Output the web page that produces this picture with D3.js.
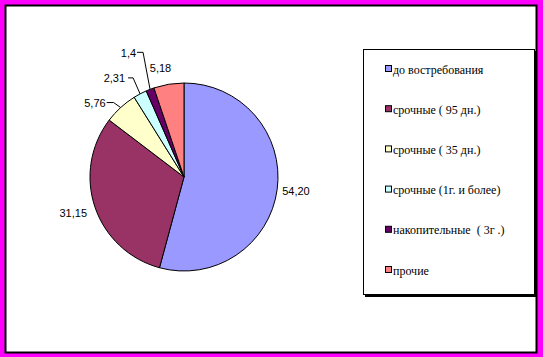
<!DOCTYPE html>
<html><head><meta charset="utf-8">
<script src="https://cdn.jsdelivr.net/npm/d3@7"></script>
<style>html,body{margin:0;padding:0;background:#ff00ff;}svg{display:block;}</style>
</head><body>
<svg id="chart" width="543" height="357"></svg>
<script>
const categories = ["до востребования","срочные ( 95 дн.)","срочные ( 35 дн.)","срочные (1г. и более)","накопительные  ( 3г .)","прочие"];
const values = [54.20, 31.15, 5.76, 2.31, 1.4, 5.18];
const valueLabels = ["54,20","31,15","5,76","2,31","1,4","5,18"];
const colors = ["#9999ff","#993366","#ffffcc","#ccffff","#660066","#ff8080"];
// label layout: offsets from the slice's outer mid-point (text pos, optional leader elbow)
const labelLayout = [
  {tx:5, ty:5.5, anchor:"start"},
  {tx:-8, ty:10, anchor:"end"},
  {tx:-15, ty:-1, anchor:"end", ex:-7, ey:-5, lx:-14},
  {tx:-15, ty:-12, anchor:"end", ex:-7, ey:-16, lx:-12},
  {tx:-14, ty:-32, anchor:"end", ex:-7, ey:-37, lx:-13},
  {tx:-19, ty:-12, anchor:"start"}
];

const svg = d3.select("#chart");
svg.append("rect").attr("x",5.5).attr("y",5.5).attr("width",531).attr("height",347)
  .attr("fill","#fff").attr("stroke","#000").attr("stroke-width",2);

const cx = 184, cy = 177, r = 94;
const pie = d3.pie().sort(null).value(d=>d)(values);
const arc = d3.arc().innerRadius(0).outerRadius(r);
const g = svg.append("g").attr("transform",`translate(${cx},${cy})`);
g.selectAll("path").data(pie).join("path")
  .attr("d",arc).attr("fill",(d,i)=>colors[i]).attr("stroke","#000").attr("stroke-width",1);

pie.forEach((d,i)=>{
  const a = (d.startAngle+d.endAngle)/2;
  const px = r*Math.sin(a), py = -r*Math.cos(a);
  const L = labelLayout[i];
  if (L.ex !== undefined) {
    g.append("path").attr("fill","none").attr("stroke","#000").attr("stroke-width",1)
      .attr("d", d3.line()([[px,py],[px+L.ex,py+L.ey],[px+L.lx,py+L.ey]]));
  }
  g.append("text").attr("x",px+L.tx).attr("y",py+L.ty).attr("text-anchor",L.anchor)
    .attr("font-family","Liberation Sans, Arial, sans-serif").attr("font-size",11)
    .attr("fill","#000").text(valueLabels[i]);
});

// legend
const lg = svg.append("g");
lg.append("rect").attr("x",365).attr("y",51).attr("width",172).attr("height",246).attr("fill","#000");
lg.append("rect").attr("x",363.5).attr("y",49.5).attr("width",171).attr("height",245)
  .attr("fill","#fff").attr("stroke","#000").attr("stroke-width",1);
const ly = d3.scalePoint().domain(categories).range([69, 270]);
categories.forEach((c,i)=>{
  lg.append("rect").attr("x",385.5).attr("y",ly(c)-3.5).attr("width",6).attr("height",6)
    .attr("fill",colors[i]).attr("stroke","#000").attr("stroke-width",1);
  lg.append("text").attr("x",393).attr("y",ly(c)+4.5)
    .attr("font-family","Liberation Serif, Times New Roman, serif").attr("font-size",12)
    .attr("fill","#000").attr("xml:space","preserve").style("white-space","pre").text(c);
});
</script>
</body></html>
